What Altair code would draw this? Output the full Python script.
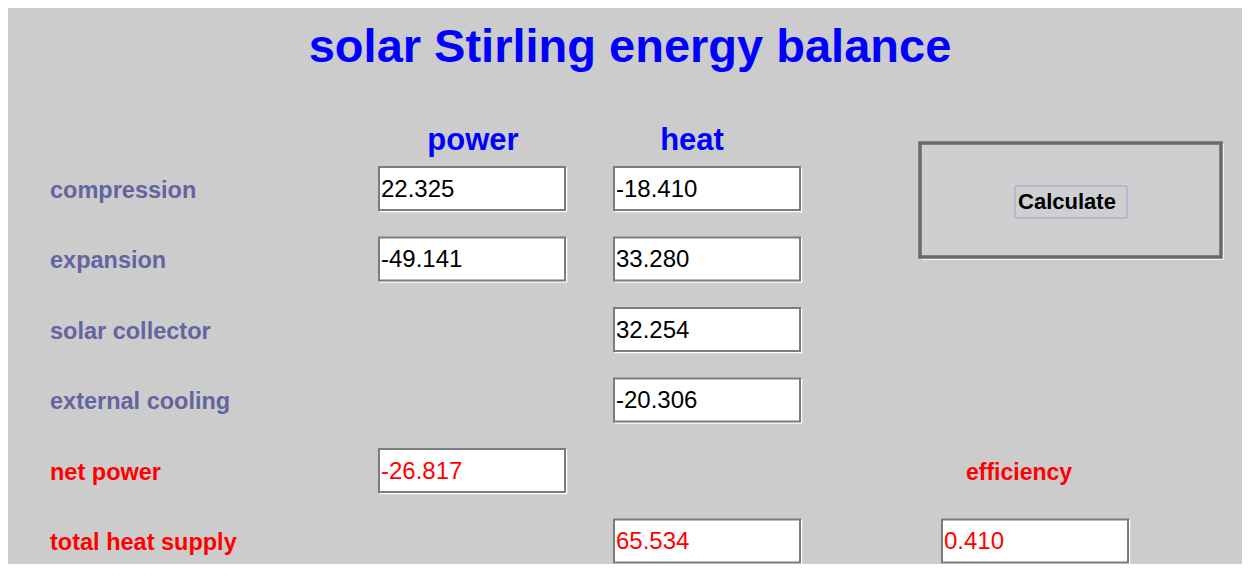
import altair as alt
import pandas as pd

# ---- content ----
title_text = "solar Stirling energy balance"
column_headers = ["power", "heat"]
row_labels = ["compression", "expansion", "solar collector", "external cooling",
              "net power", "total heat supply"]
power_values = ["22.325", "-49.141", None, None, "-26.817", None]
heat_values = ["-18.410", "33.280", "32.254", "-20.306", None, "65.534"]
efficiency_label = "efficiency"
efficiency_value = "0.410"
button_label = "Calculate"

# ---- layout (reference pixel frame) ----
W, H = 1234, 556
X0, Y0 = 8, 8
ROW0, ROWSTEP = 189.5, 70.5
BOX_LEFT = {"power": 379, "heat": 614, "efficiency": 942}
BOX_W = 186
BG = "#cccccc"
LABEL_C = "#6464a0"
RED = "#ff0000"
BLUE = "#0000ff"
FONT = "Liberation Sans"

def row_y(i):
    return ROW0 + ROWSTEP * i

# boxes table
boxes = []
for i, v in enumerate(power_values):
    if v is not None:
        boxes.append(dict(col="power", row=i, text=v, color=RED if i >= 4 else "black"))
for i, v in enumerate(heat_values):
    if v is not None:
        boxes.append(dict(col="heat", row=i, text=v, color=RED if i >= 4 else "black"))
boxes.append(dict(col="efficiency", row=5, text=efficiency_value, color=RED))
bdf = pd.DataFrame(boxes)
bdf["x"] = bdf["col"].map(BOX_LEFT)
bdf["x2"] = bdf["x"] + BOX_W
bdf["yc"] = bdf["row"].map(row_y)
bdf["y"] = bdf["yc"] - 22.5
bdf["y2"] = bdf["yc"] + 20.5
bdf["tx"] = bdf["x"] + 2
bdf["hx"] = bdf["x"] + 1.5
bdf["hx2"] = bdf["x2"] + 1.5
bdf["hy"] = bdf["y"] + 1.5
bdf["hy2"] = bdf["y2"] + 1.5

ldf = pd.DataFrame(dict(text=row_labels, row=range(len(row_labels))))
ldf["y"] = ldf["row"].map(row_y) + 1
ldf["x"] = 50
ldf["color"] = [LABEL_C] * 4 + [RED] * 2

xs = alt.Scale(domain=[X0, X0 + W], nice=False, zero=False)
ys = alt.Scale(domain=[Y0, Y0 + H], nice=False, zero=False, reverse=True)

def X(f):
    return alt.X(f, type="quantitative", scale=xs, axis=None)

def Y(f):
    return alt.Y(f, type="quantitative", scale=ys, axis=None)

# box highlight + box
box_hi = alt.Chart(bdf).mark_rect(fill=None, stroke="white", strokeWidth=1.5).encode(
    x=X("hx"), x2="hx2", y=Y("hy"), y2="hy2")
box = alt.Chart(bdf).mark_rect(fill="white", stroke="#7c7c7c", strokeWidth=2).encode(
    x=X("x"), x2="x2", y=Y("y"), y2="y2")
box_txt = alt.Chart(bdf).mark_text(align="left", baseline="middle", font=FONT,
                                   fontSize=24).encode(
    x=X("tx"), y=Y("yc"), text="text:N", color=alt.Color("color:N", scale=None))

labels = alt.Chart(ldf).mark_text(align="left", baseline="middle", font=FONT,
                                  fontSize=23.5, fontWeight="bold").encode(
    x=X("x"), y=Y("y"), text="text:N", color=alt.Color("color:N", scale=None))

hdf = pd.DataFrame(dict(text=column_headers, x=[473, 692], y=[141, 141]))
headers = alt.Chart(hdf).mark_text(align="center", baseline="middle", font=FONT,
                                   fontSize=31, fontWeight="bold", color=BLUE).encode(
    x=X("x"), y=Y("y"), text="text:N")

tdf = pd.DataFrame(dict(text=[title_text], x=[630], y=[48]))
title = alt.Chart(tdf).mark_text(align="center", baseline="middle", font=FONT,
                                 fontSize=47, fontWeight="bold", color=BLUE).encode(
    x=X("x"), y=Y("y"), text="text:N")

edf = pd.DataFrame(dict(text=[efficiency_label], x=[1019], y=[row_y(4) + 1]))
eff = alt.Chart(edf).mark_text(align="center", baseline="middle", font=FONT,
                               fontSize=23, fontWeight="bold", color=RED).encode(
    x=X("x"), y=Y("y"), text="text:N")

# button
btn = pd.DataFrame(dict(x=[920], x2=[1221], y=[143], y2=[257],
                        hx=[922], hx2=[1223], hy=[145], hy2=[259],
                        tx=[1067], ty=[202], text=[button_label],
                        fx=[1015], fx2=[1127], fy=[186], fy2=[218]))
btn_hi = alt.Chart(btn).mark_rect(fill=None, stroke="white", strokeWidth=1.5).encode(
    x=X("hx"), x2="hx2", y=Y("hy"), y2="hy2")
btn_box = alt.Chart(btn).mark_rect(fill="#cfcfcf", stroke="#6a6a6a", strokeWidth=3.5).encode(
    x=X("x"), x2="x2", y=Y("y"), y2="y2")
btn_focus = alt.Chart(btn).mark_rect(fill=None, stroke="#a0a0d8", strokeWidth=1).encode(
    x=X("fx"), x2="fx2", y=Y("fy"), y2="fy2")
btn_txt = alt.Chart(btn).mark_text(align="center", baseline="middle", font=FONT,
                                   fontSize=22, fontWeight="bold", color="black").encode(
    x=X("tx"), y=Y("ty"), text="text:N")

chart = alt.layer(
    title, headers, labels, eff,
    box_hi, box, box_txt,
    btn_hi, btn_box, btn_focus, btn_txt,
).properties(
    width=W, height=H, background=BG, padding=0,
    autosize=alt.AutoSizeParams(type="none"),
).configure_view(stroke=None)

chart.save("out.html", embed_options={"renderer": "svg", "actions": False})
